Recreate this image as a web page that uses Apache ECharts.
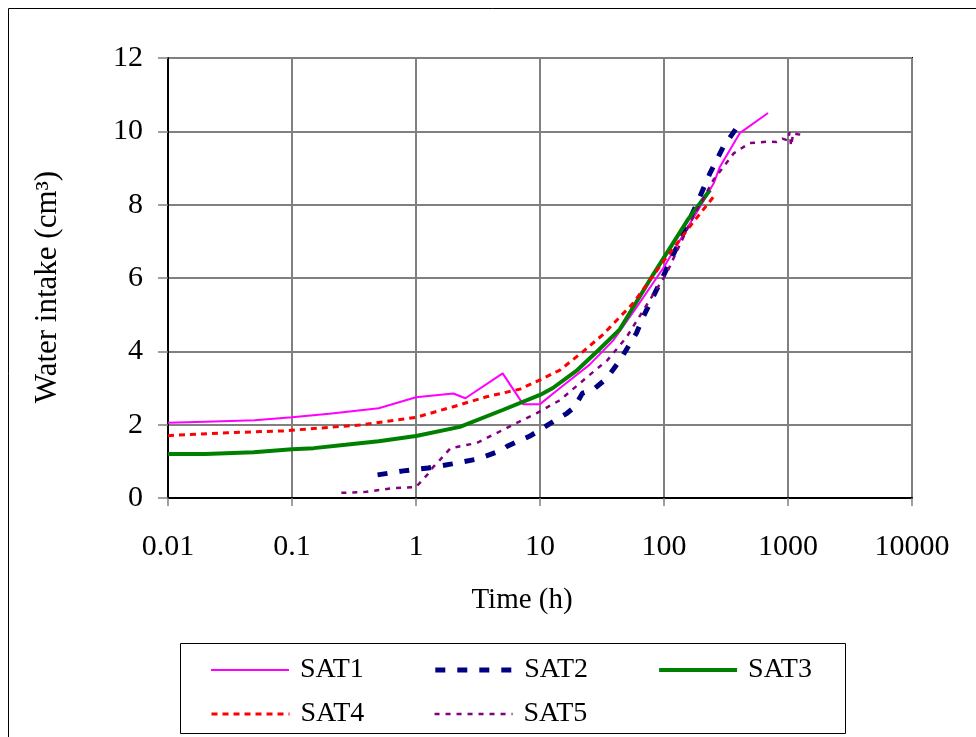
<!DOCTYPE html>
<html>
<head>
    <meta charset="utf-8">
    <title>Water intake vs time</title>
    <script src="https://cdn.jsdelivr.net/npm/echarts@6/dist/echarts.min.js"></script>
    <style>
        body { margin: 0; background: #fff; }
        #main { width: 976px; height: 737px; }
    </style>
</head>
<body>
<div id="main"></div>
<script type="text/javascript">
    // values (time in h, water intake in cm3)
    var seriesNames = ['SAT1', 'SAT2', 'SAT3', 'SAT4', 'SAT5'];
    var xTickLabels = ['0.01', '0.1', '1', '10', '100', '1000', '10000'];

    var sat1Time = [0.01, 0.02, 0.05, 0.1, 0.2, 0.5, 1, 2, 2.5, 5, 7.3, 10, 14.5, 25, 39, 60, 100, 150, 200, 253, 282, 408, 690];
    var sat1Water = [2.05, 2.08, 2.12, 2.2, 2.3, 2.45, 2.75, 2.85, 2.72, 3.4, 2.56, 2.56, 3.0, 3.63, 4.3, 5.2, 6.3, 7.3, 8.0, 8.6, 9.03, 9.95, 10.5];

    var sat2Time = [0.49, 0.79, 1.25, 1.95, 3.1, 4.75, 5.5, 8.3, 10.6, 13.7, 16.5, 19, 22, 26.8, 34.7, 44, 60, 68, 98, 135, 185, 235, 300, 390, 410];
    var sat2Water = [0.63, 0.74, 0.82, 0.93, 1.06, 1.28, 1.42, 1.69, 1.91, 2.15, 2.31, 2.48, 2.86, 2.95, 3.27, 3.75, 4.5, 4.94, 6.03, 7.04, 8.04, 8.86, 9.57, 10.12, 10.17];

    var sat3Time = [0.01, 0.02, 0.049, 0.1, 0.15, 0.27, 0.5, 1, 2.26, 5, 10, 12.7, 20, 30, 44, 82, 155, 235];
    var sat3Water = [1.2, 1.2, 1.25, 1.33, 1.36, 1.45, 1.55, 1.69, 1.94, 2.4, 2.81, 3.0, 3.49, 4.05, 4.6, 6.1, 7.58, 8.4];

    var sat4Time = [0.01, 0.03, 0.085, 0.35, 1, 2, 3.7, 6.9, 10, 14.5, 22, 32, 56, 105, 170, 257];
    var sat4Water = [1.7, 1.78, 1.83, 1.99, 2.2, 2.49, 2.76, 2.97, 3.22, 3.49, 3.98, 4.45, 5.3, 6.57, 7.5, 8.26];

    var sat5Time = [0.25, 0.4, 0.65, 1, 1.23, 1.38, 1.56, 1.9, 3.1, 5.76, 9.5, 14.5, 24, 35, 50, 56, 105, 162, 250, 365, 490, 600, 700, 810, 900, 1000, 1030, 1060, 1100, 1200, 1320];
    var sat5Water = [0.14, 0.17, 0.27, 0.3, 0.63, 0.85, 1.04, 1.36, 1.5, 1.96, 2.32, 2.67, 3.3, 3.76, 4.39, 4.66, 6.13, 7.5, 8.67, 9.4, 9.68, 9.7, 9.72, 9.71, 9.8, 9.75, 9.98, 9.6, 9.95, 9.92, 9.9];

    function pairs(xs, ys) {
        return xs.map(function (x, i) { return [x, ys[i]]; });
    }

    var font = 'Liberation Serif';
    var myChart = echarts.init(document.getElementById('main'));

    // colour, width, dash for each series (same order as seriesNames)
    var styles = [
        { color: '#FF00FF', width: 2, type: 'solid' },
        { color: '#000080', width: 5, type: [10, 12] },
        { color: '#008000', width: 4, type: 'solid' },
        { color: '#FF0000', width: 3, type: [6, 5] },
        { color: '#800080', width: 2.5, type: [5, 6] }
    ];
    var times = [sat1Time, sat2Time, sat3Time, sat4Time, sat5Time];
    var waters = [sat1Water, sat2Water, sat3Water, sat4Water, sat5Water];

    var series = seriesNames.map(function (name, i) {
        return {
            name: name,
            type: 'line',
            data: pairs(times[i], waters[i]),
            symbol: 'none',
            itemStyle: { color: styles[i].color },
            lineStyle: { color: styles[i].color, width: styles[i].width, type: styles[i].type },
            z: 3
        };
    });

    function legendItems(names) {
        return names.map(function (name) {
            var s = styles[seriesNames.indexOf(name)];
            return {
                name: name,
                itemStyle: { opacity: 0 },
                lineStyle: { color: s.color, width: s.width, type: s.type }
            };
        });
    }

    var legendText = {
        fontFamily: font,
        fontSize: 28,
        color: '#000',
        width: 70,
        padding: [0, 0, 0, 6]
    };

    var option = {
        backgroundColor: '#fff',
        animation: false,
        graphic: [
            // outer chart frame
            {
                type: 'rect',
                shape: { x: 8.5, y: 8.5, width: 1000, height: 1000 },
                style: { fill: 'none', stroke: '#000', lineWidth: 1 },
                silent: true
            },
            // legend frame
            {
                type: 'rect',
                shape: { x: 180.5, y: 643.5, width: 665, height: 90 },
                style: { fill: '#fff', stroke: '#000', lineWidth: 1 },
                silent: true,
                z: -1
            }
        ],
        grid: {
            left: 168,
            top: 58,
            right: 64,
            bottom: 239,
            show: true,
            borderColor: '#000',
            borderWidth: 2,
            containLabel: false
        },
        legend: [
            {
                data: legendItems(seriesNames.slice(0, 3)),
                left: 205,
                top: 651,
                itemWidth: 78,
                itemHeight: 24,
                itemGap: 69,
                itemStyle: { opacity: 0 },
                textStyle: legendText
            },
            {
                data: legendItems(seriesNames.slice(3)),
                left: 205,
                top: 695,
                itemWidth: 78,
                itemHeight: 24,
                itemGap: 69,
                itemStyle: { opacity: 0 },
                textStyle: legendText
            }
        ],
        xAxis: {
            type: 'log',
            logBase: 10,
            min: 0.01,
            max: 10000,
            name: 'Time (h)',
            nameLocation: 'middle',
            nameGap: 88,
            nameTextStyle: { fontFamily: font, fontSize: 29, color: '#000', padding: [0, 36, 0, 0] },
            axisLine: { lineStyle: { color: '#000', width: 2 } },
            axisTick: { show: true, length: 8, lineStyle: { color: '#808080', width: 1.5 } },
            axisLabel: {
                margin: 34,
                fontFamily: font,
                fontSize: 30,
                color: '#000',
                formatter: function (v, i) { return xTickLabels[i]; }
            },
            splitLine: { show: true, lineStyle: { color: '#808080', width: 2 } },
            minorTick: { show: false },
            minorSplitLine: { show: false }
        },
        yAxis: {
            type: 'value',
            min: 0,
            max: 12,
            interval: 2,
            name: 'Water intake (cm³)',
            nameLocation: 'middle',
            nameGap: 105,
            nameTextStyle: { fontFamily: font, fontSize: 31, color: '#000', padding: [0, 18, 0, 0] },
            axisLine: { show: true, lineStyle: { color: '#000', width: 2 } },
            axisTick: { show: true, length: 10, lineStyle: { color: '#808080', width: 1.5 } },
            axisLabel: { margin: 25, fontFamily: font, fontSize: 30, color: '#000' },
            splitLine: { show: true, lineStyle: { color: '#808080', width: 2 } }
        },
        series: series
    };

    myChart.setOption(option);
</script>
</body>
</html>
